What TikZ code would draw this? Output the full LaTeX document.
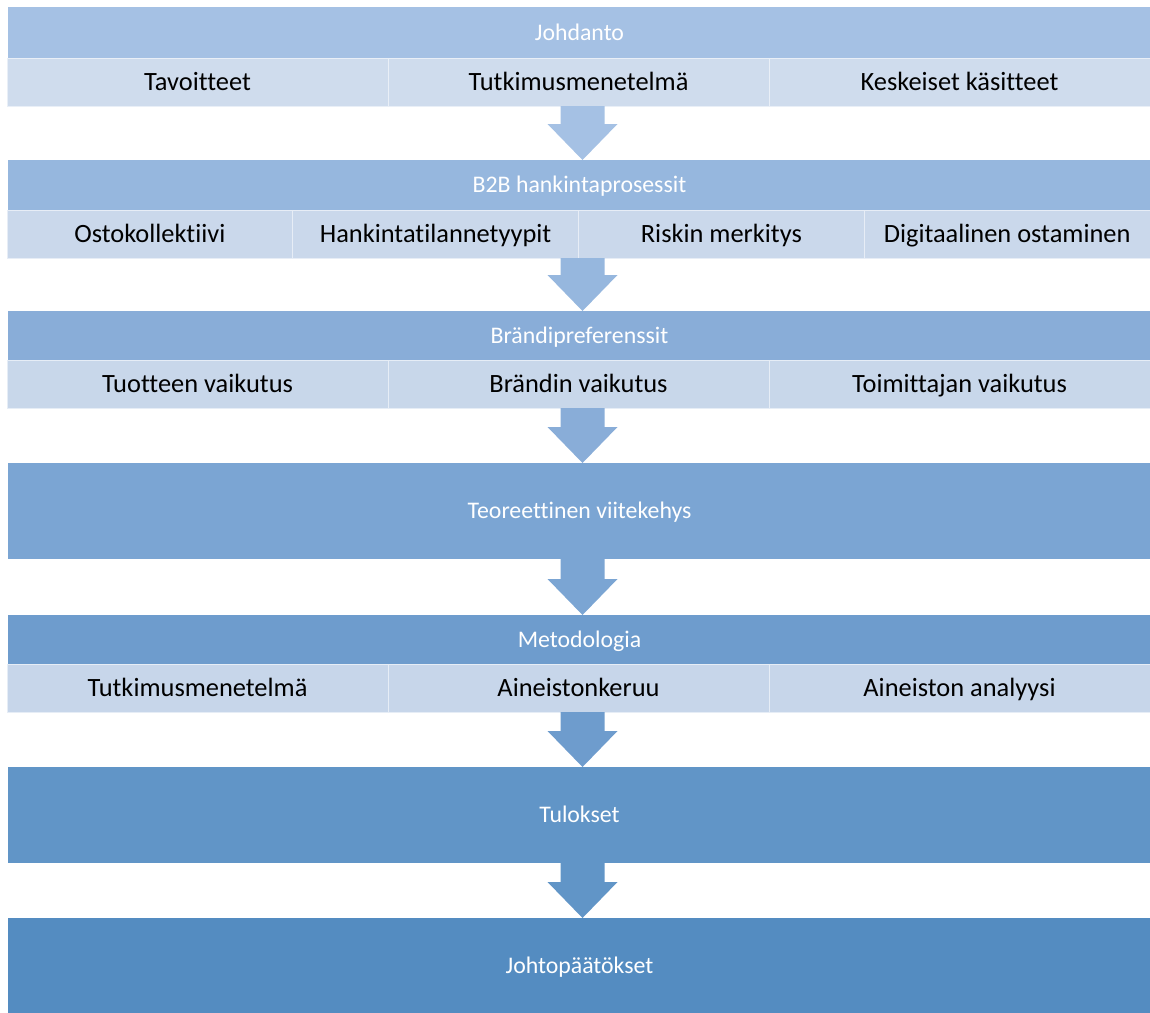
\documentclass[tikz,border=0pt]{standalone}
\usepackage{fontspec}
\setmainfont{Carlito}[Ligatures=NoCommon]
\usetikzlibrary{calc}
\definecolor{hA}{HTML}{A5C1E4}
\definecolor{sA}{HTML}{CFDCED}
\definecolor{hB}{HTML}{96B7DE}
\definecolor{sB}{HTML}{CAD8EB}
\definecolor{hC}{HTML}{89ADD8}
\definecolor{sC}{HTML}{C8D7EA}
\definecolor{hD}{HTML}{7BA5D3}
\definecolor{hE}{HTML}{6E9CCD}
\definecolor{sE}{HTML}{C7D6EA}
\definecolor{hF}{HTML}{6195C7}
\definecolor{hG}{HTML}{548CC1}
\newcommand\blockarrow[3]{%
  \fill[#3] let \p1=(#1.south), \p2=(#2.north) in
    (\x2+3pt-22pt,\y1) -- (\x2+3pt+22pt,\y1) -- (\x2+3pt+22pt,\y2+36pt)
    -- (\x2+3pt+35pt,\y2+36pt) -- (\x2+3pt,\y2) -- (\x2+3pt-35pt,\y2+36pt)
    -- (\x2+3pt-22pt,\y2+36pt) -- cycle;}
\begin{document}
\begin{tikzpicture}[x=1pt,y=-1pt,
  hdr/.style={anchor=north west, inner sep=0pt, outer sep=0pt, minimum width=1143pt,
    text=white, font=\fontsize{23.8}{28}\selectfont, text height=15.3pt, text depth=0pt},
  cell/.style={anchor=north west, inner sep=0pt, outer sep=0pt, minimum height=48pt,
    draw=white!55!#1, fill=#1, line width=0.8pt, text=black,
    font=\fontsize{26.4}{31}\selectfont, text height=17pt, text depth=0pt},
  c3/.style={cell=#1, minimum width=381pt},
  c4/.style={cell=#1, minimum width=285.75pt}]
\useasboundingbox (0,0) rectangle (1150,1012);
% band 1
\node[hdr, fill=hA, minimum height=51pt] (h1) at (8,7) {Johdanto};
\node[c3=sA] (a1) at (7,58) {Tavoitteet};
\node[c3=sA] (a2) at (388,58) {Tutkimusmenetelmä};
\node[c3=sA] (a3) at (769,58) {Keskeiset käsitteet};
% band 2
\node[hdr, fill=hB, minimum height=50pt] (h2) at (8,160) {B2B hankintaprosessit};
\node[c4=sB] (b1) at (7,210) {Ostokollektiivi};
\node[c4=sB] (b2) at (292.75,210) {Hankintatilannetyypit};
\node[c4=sB] (b3) at (578.5,210) {Riskin merkitys};
\node[c4=sB] (b4) at (864.25,210) {Digitaalinen ostaminen};
% band 3
\node[hdr, fill=hC, minimum height=49pt] (h3) at (8,311) {Brändipreferenssit};
\node[c3=sC] (d1) at (7,360) {Tuotteen vaikutus};
\node[c3=sC] (d2) at (388,360) {Brändin vaikutus};
\node[c3=sC] (d3) at (769,360) {Toimittajan vaikutus};
% band 4
\node[hdr, fill=hD, minimum height=96pt] (h4) at (8,463) {Teoreettinen viitekehys};
% band 5
\node[hdr, fill=hE, minimum height=49pt] (h5) at (8,615) {Metodologia};
\node[c3=sE] (e1) at (7,664) {Tutkimusmenetelmä};
\node[c3=sE] (e2) at (388,664) {Aineistonkeruu};
\node[c3=sE] (e3) at (769,664) {Aineiston analyysi};
% band 6
\node[hdr, fill=hF, minimum height=96pt] (h6) at (8,767) {Tulokset};
% band 7
\node[hdr, fill=hG, minimum height=96pt] (h7) at (8,918) {Johtopäätökset};
% arrows
\blockarrow{a2}{h2}{hA}
\blockarrow{b2}{h3}{hB}
\blockarrow{d2}{h4}{hC}
\blockarrow{h4}{h5}{hD}
\blockarrow{e2}{h6}{hE}
\blockarrow{h6}{h7}{hF}
\end{tikzpicture}
\end{document}
